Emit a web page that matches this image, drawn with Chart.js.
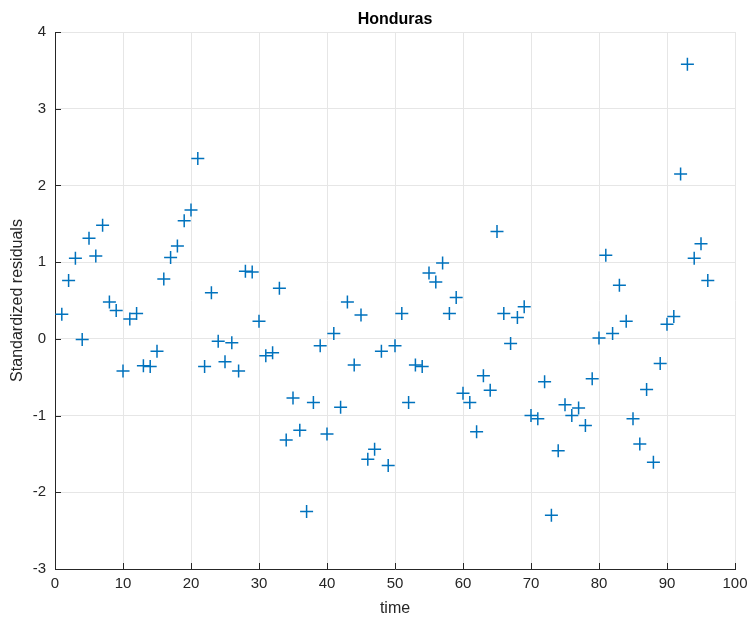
<!DOCTYPE html>
<html>
<head>
<meta charset="utf-8">
<script src="https://cdn.jsdelivr.net/npm/chart.js@4"></script>
<style>
  body { margin: 0; background: #fff; }
  #wrap { width: 747px; height: 618px; }
</style>
</head>
<body>
<div id="wrap"><canvas id="residChart"></canvas></div>
<script>
// time index 1..96
var times = [];
for (var t = 1; t <= 96; t++) times.push(t);

// standardized residuals
var residuals = [
  0.32, 0.76, 1.05, -0.01, 1.31, 1.08, 1.48, 0.48, 0.37, -0.42,
  0.26, 0.33, -0.35, -0.36, -0.16, 0.78, 1.06, 1.21, 1.54, 1.68,
  2.35, -0.36, 0.60, -0.03, -0.30, -0.05, -0.42, 0.88, 0.87, 0.23,
  -0.22, -0.18, 0.66, -1.32, -0.77, -1.19, -2.25, -0.83, -0.09, -1.24,
  0.07, -0.89, 0.48, -0.34, 0.31, -1.57, -1.44, -0.16, -1.65, -0.09,
  0.33, -0.83, -0.34, -0.36, 0.86, 0.74, 0.99, 0.33, 0.54, -0.71,
  -0.83, -1.21, -0.48, -0.67, 1.40, 0.33, -0.06, 0.28, 0.42, -1.00,
  -1.04, -0.56, -2.30, -1.46, -0.86, -1.00, -0.90, -1.13, -0.52, 0.01,
  1.09, 0.07, 0.70, 0.23, -1.04, -1.37, -0.66, -1.61, -0.32, 0.19,
  0.29, 2.15, 3.58, 1.05, 1.24, 0.76
];

var xTicks = [0, 10, 20, 30, 40, 50, 60, 70, 80, 90, 100];
var yTicks = [-3, -2, -1, 0, 1, 2, 3, 4];

var points = times.map(function (t, i) {
  return { x: t, y: residuals[i] };
});

// MATLAB style inward ticks on the left and bottom axes
var innerTicks = {
  id: 'innerTicks',
  afterDraw: function (chart) {
    var ctx = chart.ctx;
    var area = chart.chartArea;
    var xs = chart.scales.x, ys = chart.scales.y;
    ctx.save();
    ctx.strokeStyle = '#262626';
    ctx.lineWidth = 1;
    ctx.beginPath();
    xTicks.forEach(function (v) {
      var px = Math.round(xs.getPixelForValue(v)) + 0.5;
      ctx.moveTo(px, area.bottom);
      ctx.lineTo(px, area.bottom - 6);
    });
    yTicks.forEach(function (v) {
      var py = Math.round(ys.getPixelForValue(v)) + 0.5;
      ctx.moveTo(area.left, py);
      ctx.lineTo(area.left + 6, py);
    });
    ctx.stroke();
    ctx.restore();
  }
};

var family = 'Liberation Sans, Arial, sans-serif';
var tickFont = { family: family, size: 15 };
var labelFont = { family: family, size: 16 };

new Chart(document.getElementById('residChart').getContext('2d'), {
  type: 'scatter',
  data: {
    datasets: [{
      label: 'residuals',
      data: points,
      pointStyle: 'cross',
      pointRadius: 6.5,
      pointHoverRadius: 6.5,
      pointBorderWidth: 1.5,
      borderColor: 'rgb(0,114,189)',
      backgroundColor: 'rgb(0,114,189)'
    }]
  },
  options: {
    responsive: true,
    maintainAspectRatio: false,
    animation: false,
    events: [],
    layout: { padding: { left: 0, right: 12, top: 0, bottom: 0 } },
    plugins: {
      legend: { display: false },
      tooltip: { enabled: false },
      title: {
        display: true,
        fullSize: false,
        text: 'Honduras',
        color: '#000',
        font: { family: family, size: 16, weight: 'bold' },
        padding: { top: 10.4, bottom: 2.4 }
      }
    },
    scales: {
      x: {
        type: 'linear',
        min: 0,
        max: 100,
        afterBuildTicks: function (scale) {
          scale.ticks = xTicks.map(function (v) { return { value: v }; });
        },
        afterFit: function (scale) {
          scale.height = 49;
          scale.paddingLeft = 0;
          scale.paddingRight = 0;
        },
        grid: { color: '#e6e6e6', drawTicks: false },
        border: { display: true, color: '#262626', width: 1 },
        ticks: { color: '#262626', font: tickFont, padding: 6, maxRotation: 0 },
        title: {
          display: true,
          text: 'time',
          color: '#262626',
          font: labelFont,
          padding: { top: 0, bottom: 0 }
        }
      },
      y: {
        type: 'linear',
        min: -3,
        max: 4,
        afterBuildTicks: function (scale) {
          scale.ticks = yTicks.map(function (v) { return { value: v }; });
        },
        afterFit: function (scale) { scale.width = 55; },
        grid: { color: '#e6e6e6', drawTicks: false },
        border: { display: true, color: '#262626', width: 1 },
        ticks: { color: '#262626', font: tickFont, padding: 9 },
        title: {
          display: true,
          text: 'Standardized residuals',
          color: '#262626',
          font: labelFont,
          padding: { top: 8.4, bottom: 0 }
        }
      }
    }
  },
  plugins: [innerTicks]
});
</script>
</body>
</html>
